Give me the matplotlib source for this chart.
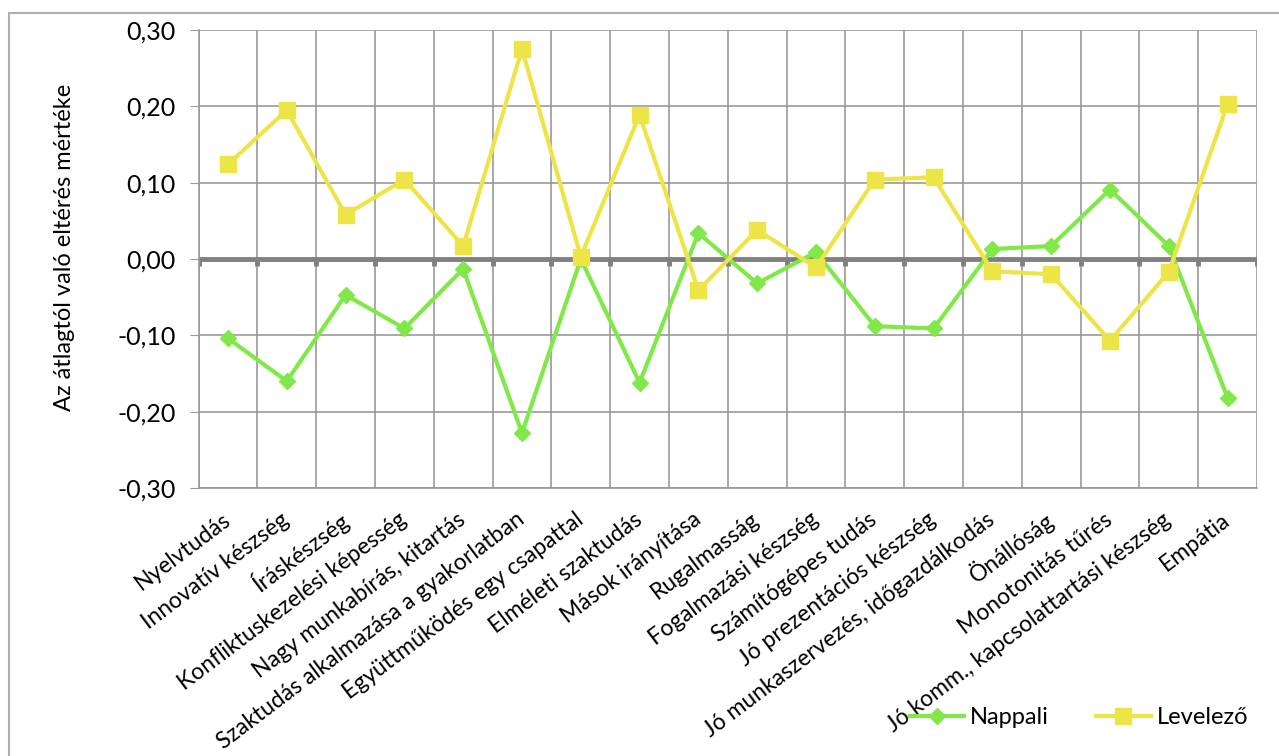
import numpy as np
import matplotlib.pyplot as plt
from matplotlib.patches import Rectangle
from matplotlib.ticker import FuncFormatter

categories = [
    "Nyelvtudás",
    "Innovatív készség",
    "Íráskészség",
    "Konfliktuskezelési képesség",
    "Nagy munkabírás, kitartás",
    "Szaktudás alkalmazása a gyakorlatban",
    "Együttműködés egy csapattal",
    "Elméleti szaktudás",
    "Mások irányítása",
    "Rugalmasság",
    "Fogalmazási készség",
    "Számítógépes tudás",
    "Jó prezentációs készség",
    "Jó munkaszervezés, időgazdálkodás",
    "Önállóság",
    "Monotonitás tűrés",
    "Jó komm., kapcsolattartási készség",
    "Empátia",
]
nappali = [-0.104, -0.160, -0.047, -0.091, -0.013, -0.228, 0.000, -0.162, 0.034,
           -0.032, 0.009, -0.088, -0.091, 0.013, 0.017, 0.091, 0.017, -0.182]
levelezo = [0.124, 0.195, 0.058, 0.104, 0.017, 0.275, 0.003, 0.189, -0.041,
            0.038, -0.011, 0.104, 0.107, -0.016, -0.020, -0.107, -0.017, 0.203]
y_ticks = [-0.3, -0.2, -0.1, 0.0, 0.1, 0.2, 0.3]

plt.rcParams["font.family"] = ["Lato", "DejaVu Sans"]

fig = plt.figure(figsize=(12.79, 7.56), dpi=100)
ax = fig.add_axes([198.6 / 1279, 1 - 488 / 756, (1257 - 198.6) / 1279, 458 / 756])

x = np.arange(len(categories))
grid_c = "#9a9a9a"

# outer chart frame
fig.patches.append(Rectangle((9 / 1279, -0.05), 1.1, 1 - 12.5 / 756 + 0.05,
                             transform=fig.transFigure, fill=False,
                             edgecolor="#b0b0b0", lw=1.5))

ax.set_xlim(-0.5, len(categories) - 0.5)
ax.set_ylim(-0.3, 0.3)
ax.set_yticks(y_ticks)
ax.yaxis.set_major_formatter(FuncFormatter(lambda v, p: f"{v:.2f}".replace(".", ",")))
ax.tick_params(axis="y", length=6.5, color=grid_c, labelsize=18, pad=10)

bounds = np.arange(len(categories) + 1) - 0.5
ax.set_xticks(bounds, minor=True)
ax.set_xticks(x)
ax.set_xticklabels(categories, rotation=37, ha="right", va="center",
                   rotation_mode="anchor", fontsize=16.5)
ax.tick_params(axis="x", which="both", length=0, pad=21)

ax.grid(True, axis="y", color=grid_c, lw=1.2)
ax.grid(True, axis="x", which="minor", color=grid_c, lw=1.2)
ax.set_axisbelow(True)
for name, sp in ax.spines.items():
    sp.set_visible(name in ("left", "bottom"))
    sp.set_color(grid_c)
    sp.set_linewidth(1.2)

# category axis at zero with tick marks
ax.axhline(0, color="#808080", lw=3.5, zorder=2)
ax.vlines(bounds, -0.009, 0, color="#808080", lw=3.5, zorder=2)

ax.plot(x, nappali, color="#80e848", lw=3, marker="D", markersize=8.5,
        label="Nappali", zorder=3)
ax.plot(x, levelezo, color="#ede547", lw=3, marker="s", markersize=11,
        label="Levelező", zorder=3)

fig.text(65 / 1279, 1 - 247 / 756, "Az átlagtól való eltérés mértéke",
         rotation=90, ha="center", va="center", fontsize=17)

fig.legend(loc="center", bbox_to_anchor=(1079 / 1279, 1 - 718 / 756), ncol=2,
           frameon=False, fontsize=17, handlelength=2.3, columnspacing=2.0,
           handletextpad=0.25)

fig.savefig("out.png", dpi=100)
